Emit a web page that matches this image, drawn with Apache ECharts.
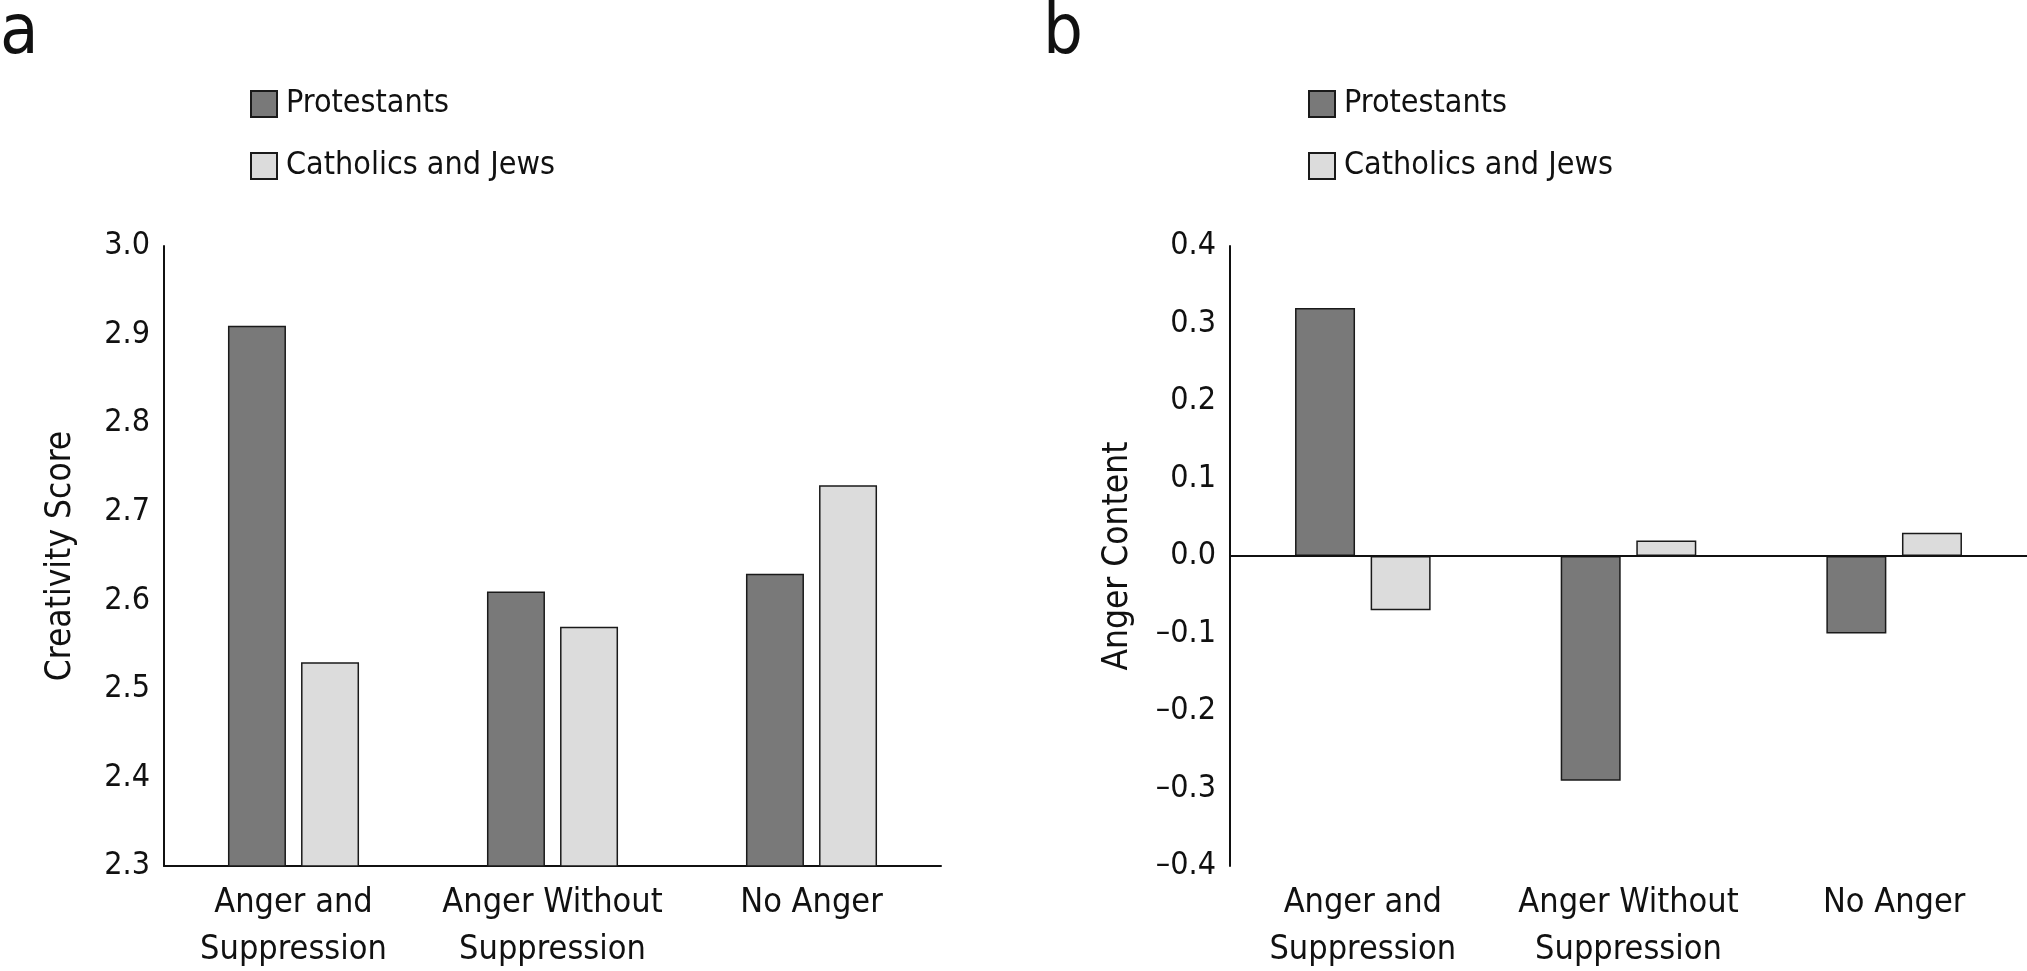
<!DOCTYPE html>
<html>
<head>
<meta charset="utf-8">
<title>Creativity and Anger Content</title>
<script src="https://cdn.jsdelivr.net/npm/echarts@6/dist/echarts.min.js"></script>
<style>
  html, body { margin: 0; padding: 0; background: #fff; }
  #main { width: 2027px; height: 971px; }
</style>
</head>
<body>
<div id="main"></div>
<script>
// data
const categories = ['Anger and\nSuppression', 'Anger Without\nSuppression', 'No Anger'];
const seriesNames = ['Protestants', 'Catholics and Jews'];
const creativityProtestants = [2.91, 2.61, 2.63];
const creativityCatholicsJews = [2.53, 2.57, 2.73];
const angerProtestants = [0.32, -0.29, -0.10];
const angerCatholicsJews = [-0.07, 0.02, 0.03];

// narrow sans: no Helvetica Condensed here, so the condensed DejaVu face it is
const FONT = "'DejaVu Sans Condensed', 'Liberation Sans', sans-serif";
const DARK = '#797979';
const LIGHT = '#dcdcdc';
const INK = '#111111';

const chart = echarts.init(document.getElementById('main'));

function minusLabel(v) {
    const s = Math.abs(v).toFixed(1);
    return v < -1e-9 ? '\u2013' + s : s;
}

function makeLegend(left) {
    return {
        left: left,
        top: 88,
        padding: 0,
        orient: 'vertical',
        itemWidth: 26,
        itemHeight: 26,
        itemGap: 30,
        selectedMode: false,
        icon: 'rect',
        data: seriesNames,
        textStyle: { fontFamily: FONT, fontSize: 32, color: INK, padding: [0, 0, 0, 4] }
    };
}

function xAxisFor(gridIndex) {
    return {
        type: 'category',
        gridIndex: gridIndex,
        data: categories,
        position: 'bottom',
        axisLine: { show: gridIndex === 0, onZero: false, lineStyle: { color: INK, width: 2 } },
        axisTick: { show: false },
        axisLabel: {
            fontFamily: FONT, fontSize: 34, lineHeight: 47, color: INK,
            margin: 14, interval: 0
        }
    };
}

function yAxisFor(gridIndex, min, max, name, gap, fmt) {
    return {
        type: 'value',
        gridIndex: gridIndex,
        min: min,
        max: max,
        interval: 0.1,
        name: name,
        nameLocation: 'middle',
        nameGap: gap,
        nameTextStyle: { fontFamily: FONT, fontSize: 35, color: INK },
        splitLine: { show: false },
        axisTick: { show: false },
        axisLine: { show: true, lineStyle: { color: INK, width: 2 } },
        axisLabel: { fontFamily: FONT, fontSize: 32, color: INK, margin: 14, formatter: fmt }
    };
}

function barSeries(name, idx, data, color, width) {
    return {
        name: name,
        type: 'bar',
        xAxisIndex: idx,
        yAxisIndex: idx,
        data: data,
        barWidth: width,
        barGap: '26%',
        itemStyle: { color: color, borderColor: '#1a1a1a', borderWidth: 1.5 },
        emphasis: { disabled: true }
    };
}

// right panel: category labels stay at the bottom, the zero line is drawn separately
const zeroLine = {
    silent: true,
    symbol: 'none',
    label: { show: false },
    lineStyle: { color: INK, width: 2, type: 'solid' },
    data: [{ yAxis: 0 }]
};

const option = {
    backgroundColor: '#ffffff',
    animation: false,
    legend: [makeLegend(250), makeLegend(1308)],
    grid: [
        { left: 164, top: 246, width: 777, height: 620, outerBoundsMode: 'none' },
        { left: 1230, top: 246, width: 797, height: 620, outerBoundsMode: 'none' }
    ],
    xAxis: [xAxisFor(0), xAxisFor(1)],
    yAxis: [
        yAxisFor(0, 2.3, 3.0, 'Creativity Score', 86, v => v.toFixed(1)),
        yAxisFor(1, -0.4, 0.4, 'Anger Content', 95, minusLabel)
    ],
    graphic: [
        { type: 'text', left: 0, top: 0, style: { text: 'a', fontFamily: FONT, fontSize: 70, fill: INK } },
        { type: 'text', left: 1043, top: 0, style: { text: 'b', fontFamily: FONT, fontSize: 70, fill: INK } }
    ],
    series: [
        barSeries(seriesNames[0], 0, creativityProtestants, DARK, 58),
        barSeries(seriesNames[1], 0, creativityCatholicsJews, LIGHT, 58),
        Object.assign(barSeries(seriesNames[0], 1, angerProtestants, DARK, 60), { markLine: zeroLine }),
        barSeries(seriesNames[1], 1, angerCatholicsJews, LIGHT, 60)
    ]
};

chart.setOption(option);
</script>
</body>
</html>
